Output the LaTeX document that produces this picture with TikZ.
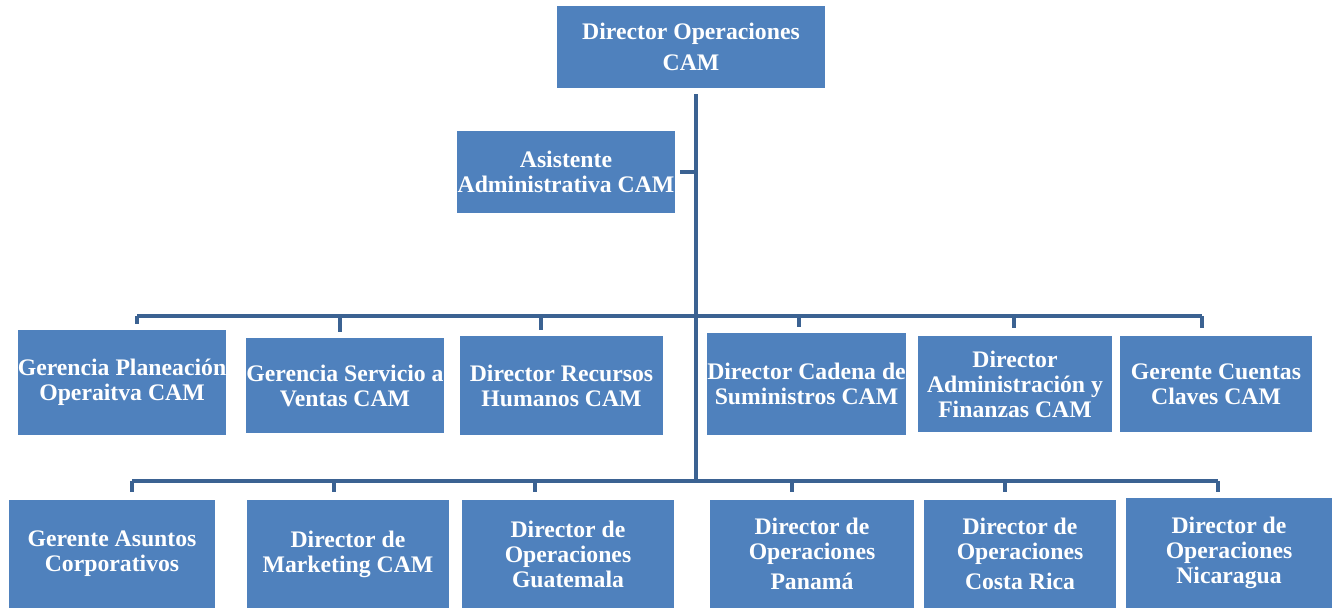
\documentclass[tikz,border=0pt]{standalone}
\usepackage{fontspec}
\setmainfont{Liberation Serif}
\definecolor{caja}{HTML}{4F81BD}
\definecolor{linea}{HTML}{3B6292}
\tikzset{
  puesto/.style={shape=rectangle, fill=caja, text=white, inner sep=0pt, align=center,
    font=\bfseries\fontsize{13.5}{14.2}\selectfont},
  link/.style={draw=linea, line width=0.09cm, line join=miter}
}
\begin{document}
\begin{tikzpicture}[x=0.02cm, y=-0.02cm]
\useasboundingbox (0,0) rectangle (1332,608);

\node[puesto, minimum width=5.36cm, minimum height=1.64cm, font=\bfseries\fontsize{13.5}{17.6}\selectfont] (Dir) at (691,47) {Director Operaciones\\CAM};
\node[puesto, minimum width=4.36cm, minimum height=1.64cm] (Asis) at (566,172) {Asistente\\Administrativa CAM};

% primera fila
\node[puesto, minimum width=4.08cm, minimum height=2.10cm] (B1) at (122,382.5) {Gerencia Planeación\\Operaitva CAM};
\node[puesto, minimum width=3.92cm, minimum height=1.90cm] (B2) at (345,385.5) {Gerencia Servicio a\\Ventas CAM};
\node[puesto, minimum width=4.06cm, minimum height=1.98cm] (B3) at (561.5,385.5) {Director Recursos\\Humanos CAM};
\node[puesto, minimum width=3.86cm, minimum height=2.04cm] (B4) at (806.5,384) {Director Cadena de\\Suministros CAM};
\node[puesto, minimum width=3.88cm, minimum height=1.92cm] (B5) at (1015,384) {Director\\Administración y\\Finanzas CAM};
\node[puesto, minimum width=3.84cm, minimum height=1.92cm] (B6) at (1216,384) {Gerente Cuentas\\Claves CAM};

% segunda fila
\node[puesto, minimum width=4.12cm, minimum height=2.16cm] (C1) at (112,554) {Gerente Asuntos\\Corporativos};
\node[puesto, minimum width=4.04cm, minimum height=2.16cm] (C2) at (348,554) {Director de\\Marketing CAM};
\node[puesto, minimum width=4.24cm, minimum height=2.16cm] (C3) at (568,554) {Director de\\Operaciones\\Guatemala};
\node[puesto, minimum width=4.08cm, minimum height=2.16cm] (C4) at (812,554) {Director de\\Operaciones\\[0.1cm]Panamá};
\node[puesto, minimum width=3.84cm, minimum height=2.16cm] (C5) at (1020,554) {Director de\\Operaciones\\[0.1cm]Costa Rica};
\node[puesto, minimum width=4.12cm, minimum height=2.20cm] (C6) at (1229,553) {Director de\\Operaciones\\Nicaragua};

% puntos de las barras
\coordinate (tronco) at (696,481);
\coordinate (p1) at (137,316);
\coordinate (p2) at (340,316);
\coordinate (p3) at (541,316);
\coordinate (p4) at (799,316);
\coordinate (p5) at (1014,316);
\coordinate (p6) at (1202,316);
\coordinate (q1) at (132,481);
\coordinate (q2) at (334,481);
\coordinate (q3) at (535,481);
\coordinate (q4) at (792,481);
\coordinate (q5) at (1005,481);
\coordinate (q6) at (1218,481);

\draw[link, shorten <=0.12cm] (Dir.south -| tronco) -- (tronco);
\draw[link, shorten <=0.1cm] (Asis.east) -- (Asis.east -| tronco);

\draw[link] (p1) -- (p6);
\draw[link, shorten >=0.12cm] (p1) -- (p1 |- B1.north);
\draw[link, shorten >=0.12cm] (p2) -- (p2 |- B2.north);
\draw[link, shorten >=0.12cm] (p3) -- (p3 |- B3.north);
\draw[link, shorten >=0.12cm] (p4) -- (p4 |- B4.north);
\draw[link, shorten >=0.16cm] (p5) -- (p5 |- B5.north);
\draw[link, shorten >=0.16cm] (p6) -- (p6 |- B6.north);

\draw[link] (q1) -- (q6);
\draw[link, shorten >=0.16cm] (q1) -- (q1 |- C1.north);
\draw[link, shorten >=0.16cm] (q2) -- (q2 |- C2.north);
\draw[link, shorten >=0.16cm] (q3) -- (q3 |- C3.north);
\draw[link, shorten >=0.16cm] (q4) -- (q4 |- C4.north);
\draw[link, shorten >=0.16cm] (q5) -- (q5 |- C5.north);
\draw[link, shorten >=0.12cm] (q6) -- (q6 |- C6.north);
\end{tikzpicture}
\end{document}
